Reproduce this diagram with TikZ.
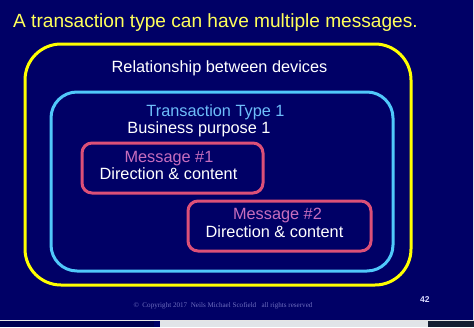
\documentclass[tikz,border=0pt]{standalone}
\usepackage{fontspec}
\setmainfont{Liberation Sans}
\newfontfamily\serifcopy{Liberation Serif}
\definecolor{navy}{RGB}{0,0,102}
\definecolor{ylw}{RGB}{255,255,0}
\definecolor{titley}{RGB}{255,255,90}
\definecolor{cyanb}{RGB}{80,200,250}
\definecolor{pinkb}{RGB}{220,80,120}
\definecolor{msgtxt}{RGB}{200,110,190}
\definecolor{txtblue}{RGB}{110,190,250}
\definecolor{stripgray}{RGB}{225,228,232}
\definecolor{stripdark}{RGB}{20,30,50}
\definecolor{copyc}{RGB}{110,110,190}
\begin{document}
\begin{tikzpicture}[x=1pt,y=-1pt,
  boxline/.style={line width=3pt,fill=none},
  lbl/.style={inner sep=0pt,anchor=base,text=white,font=\fontsize{16.3}{18}\selectfont}]
\useasboundingbox (0,0) rectangle (474,327);
\fill[navy] (0,0) rectangle (474,327);
\fill[stripgray] (160,321) rectangle (428,327);
\fill[stripdark] (428,321) rectangle (474,327);
\fill[navy!80!black] (0,321) rectangle (154,327);
\draw[white!80!gray,line width=0.8pt] (0,320.5) -- (474,320.5);
\draw[white!80!gray,line width=0.8pt] (473.5,0) -- (473.5,321);
\node[inner sep=0pt,anchor=base west,text=titley,font=\fontsize{19.1}{22}\selectfont] (title) at (13,27.5) {A transaction type can have multiple messages.};
\draw[boxline,ylw,rounded corners=36pt] (25,44) rectangle (411,285);
\node[lbl] (rel) at (219.5,72.5) {Relationship between devices};
\draw[boxline,cyanb,rounded corners=26pt] (51,92) rectangle (393,271);
\node[lbl,text=txtblue] (tt) at (215.5,116.5) {Transaction Type 1};
\node[lbl] (bp) at (199,133) {Business purpose 1};
\draw[boxline,pinkb,rounded corners=10pt] (82,143) rectangle (263,193);
\node[lbl,text=msgtxt] (m1) at (169,162) {Message \#1};
\node[lbl] (d1) at (168.5,179.5) {Direction \& content};
\draw[boxline,pinkb,rounded corners=10pt] (188,201) rectangle (371,251);
\node[lbl,text=msgtxt] (m2) at (277.5,219.5) {Message \#2};
\node[lbl] (d2) at (274.5,237.5) {Direction \& content};
\node[inner sep=0pt,anchor=base,text=copyc,font=\serifcopy\fontsize{7.1}{8}\selectfont] (copy) at (223,307) {\textcopyright\ \ Copyright 2017\ \ Neils Michael Scofield\ \ \ all rights reserved};
\node[inner sep=0pt,anchor=base west,text=white!85!blue,font=\bfseries\fontsize{8.5}{9}\selectfont] (pg) at (420,302) {42};
\end{tikzpicture}
\end{document}
